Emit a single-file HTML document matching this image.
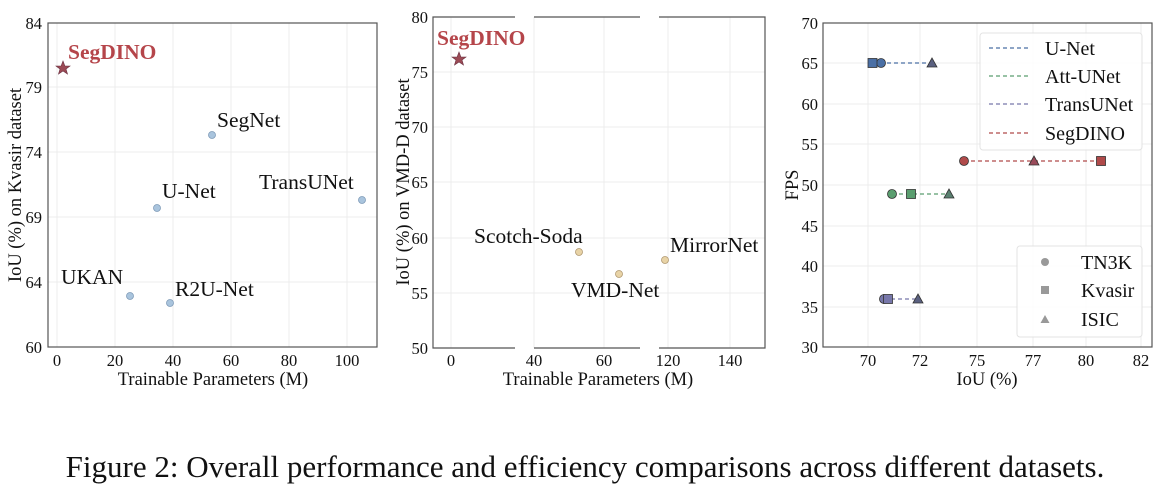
<!DOCTYPE html>
<html><head><meta charset="utf-8"><style>body{margin:0;background:#fff}svg{display:block}text{font-family:"Liberation Serif",serif;fill:#111}</style></head><body>
<svg width="1170" height="498" viewBox="0 0 1170 498" xmlns="http://www.w3.org/2000/svg">
<g stroke="#ececec" stroke-width="1">
<line x1="57" y1="23" x2="57" y2="347"/><line x1="115" y1="23" x2="115" y2="347"/><line x1="173" y1="23" x2="173" y2="347"/><line x1="231" y1="23" x2="231" y2="347"/><line x1="289" y1="23" x2="289" y2="347"/><line x1="347" y1="23" x2="347" y2="347"/>
<line x1="48" y1="87" x2="377" y2="87"/><line x1="48" y1="152" x2="377" y2="152"/><line x1="48" y1="217" x2="377" y2="217"/><line x1="48" y1="282" x2="377" y2="282"/>
<line x1="451" y1="17" x2="451" y2="348"/><line x1="534" y1="17" x2="534" y2="348"/><line x1="604" y1="17" x2="604" y2="348"/><line x1="668" y1="17" x2="668" y2="348"/><line x1="730" y1="17" x2="730" y2="348"/>
<line x1="433" y1="72" x2="765" y2="72"/><line x1="433" y1="127" x2="765" y2="127"/><line x1="433" y1="182" x2="765" y2="182"/><line x1="433" y1="238" x2="765" y2="238"/><line x1="433" y1="293" x2="765" y2="293"/>
<line x1="868" y1="23" x2="868" y2="347"/><line x1="920" y1="23" x2="920" y2="347"/><line x1="977" y1="23" x2="977" y2="347"/><line x1="1033" y1="23" x2="1033" y2="347"/><line x1="1086" y1="23" x2="1086" y2="347"/><line x1="1141" y1="23" x2="1141" y2="347"/>
<line x1="823" y1="63" x2="1152" y2="63"/><line x1="823" y1="104" x2="1152" y2="104"/><line x1="823" y1="144" x2="1152" y2="144"/><line x1="823" y1="185" x2="1152" y2="185"/><line x1="823" y1="226" x2="1152" y2="226"/><line x1="823" y1="266" x2="1152" y2="266"/><line x1="823" y1="307" x2="1152" y2="307"/>
</g>
<g fill="none" stroke="#555" stroke-width="1.2">
<rect x="48" y="23" width="329" height="324"/>
<rect x="823" y="23" width="329" height="324"/>
<path d="M515 17H433V348H515M534 17H640M534 348H640M659 17H765V348H659"/>
</g>
<!-- chart1 -->
<g font-size="16.5" text-anchor="end">
<text x="42" y="29">84</text><text x="42" y="93">79</text><text x="42" y="158">74</text><text x="42" y="223">69</text><text x="42" y="288">64</text><text x="42" y="353">60</text>
</g>
<g font-size="16.5" text-anchor="middle">
<text x="57" y="366">0</text><text x="115" y="366">20</text><text x="173" y="366">40</text><text x="231" y="366">60</text><text x="289" y="366">80</text><text x="347" y="366">100</text>
</g>
<text x="213" y="385" font-size="18.5" text-anchor="middle">Trainable Parameters (M)</text>
<text transform="translate(21,185) rotate(-90)" font-size="18.5" text-anchor="middle">IoU (%) on Kvasir dataset</text>
<g fill="#a9c4dd" stroke="#7f9bb8" stroke-width="0.8">
<circle cx="212" cy="135" r="3.5"/><circle cx="157" cy="208" r="3.5"/><circle cx="362" cy="200" r="3.5"/><circle cx="130" cy="296" r="3.5"/><circle cx="170" cy="303" r="3.5"/>
</g>
<polygon points="63,61 64.9,66 70,66 66,69 67.5,74 63,71 58.5,74 60,69 56,66 61.1,66" fill="#9b4a55" stroke="#6b3040" stroke-width="0.6"/>
<text x="68" y="59" font-size="21.5" font-weight="bold" style="fill:#b5454a">SegDINO</text>
<g font-size="21.5"><text x="217" y="127">SegNet</text><text x="162" y="198">U-Net</text><text x="259" y="189">TransUNet</text><text x="61" y="284">UKAN</text><text x="175" y="296">R2U-Net</text></g>
<!-- chart2 -->
<g font-size="16.5" text-anchor="end">
<text x="428" y="23">80</text><text x="428" y="78">75</text><text x="428" y="133">70</text><text x="428" y="188">65</text><text x="428" y="244">60</text><text x="428" y="299">55</text><text x="428" y="354">50</text>
</g>
<g font-size="16.5" text-anchor="middle">
<text x="451" y="366">0</text><text x="534" y="366">40</text><text x="604" y="366">60</text><text x="668" y="366">120</text><text x="730" y="366">140</text>
</g>
<text x="598" y="385" font-size="18.5" text-anchor="middle">Trainable Parameters (M)</text>
<text transform="translate(409,182) rotate(-90)" font-size="18.5" text-anchor="middle">IoU (%) on VMD-D dataset</text>
<g fill="#e8d3a6" stroke="#b09870" stroke-width="0.8">
<circle cx="579" cy="252" r="3.5"/><circle cx="619" cy="274" r="3.5"/><circle cx="665" cy="260" r="3.5"/>
</g>
<polygon points="459,52 460.9,57 466,57 462,60 463.5,65 459,62 454.5,65 456,60 452,57 457.1,57" fill="#9b4a55" stroke="#6b3040" stroke-width="0.6"/>
<text x="437" y="45" font-size="21.5" font-weight="bold" style="fill:#b5454a">SegDINO</text>
<g font-size="21.5"><text x="474" y="243">Scotch-Soda</text><text x="571" y="297">VMD-Net</text><text x="670" y="252">MirrorNet</text></g>
<!-- chart3 -->
<g font-size="16.5" text-anchor="end">
<text x="818" y="29">70</text><text x="818" y="69">65</text><text x="818" y="110">60</text><text x="818" y="150">55</text><text x="818" y="191">50</text><text x="818" y="232">45</text><text x="818" y="272">40</text><text x="818" y="313">35</text><text x="818" y="353">30</text>
</g>
<g font-size="16.5" text-anchor="middle">
<text x="868" y="366">70</text><text x="920" y="366">72</text><text x="977" y="366">75</text><text x="1033" y="366">77</text><text x="1086" y="366">80</text><text x="1141" y="366">82</text>
</g>
<text x="987" y="385" font-size="18.5" text-anchor="middle">IoU (%)</text>
<text transform="translate(798,185) rotate(-90)" font-size="18.5" text-anchor="middle">FPS</text>
<g stroke-dasharray="4,3" stroke-width="1.2">
<line x1="873" y1="63" x2="932" y2="63" stroke="#4a6fa5"/>
<line x1="892" y1="194" x2="949" y2="194" stroke="#5a9e6f"/>
<line x1="884" y1="299" x2="918" y2="299" stroke="#7777aa"/>
<line x1="964" y1="161" x2="1101" y2="161" stroke="#b04a4a"/>
</g>
<g stroke="#333" stroke-width="0.8">
<circle cx="881" cy="63" r="4.5" fill="#4a6fa5"/><rect x="868" y="58.5" width="9" height="9" fill="#4a6fa5"/><polygon points="932,58 937,67 927,67" fill="#5a6080"/>
<circle cx="892" cy="194" r="4.5" fill="#5a9e6f"/><rect x="906.5" y="189.5" width="9" height="9" fill="#5a9e6f"/><polygon points="949,189 954,198 944,198" fill="#5a8070"/>
<circle cx="884" cy="299" r="4.5" fill="#7777aa"/><rect x="883.5" y="294.5" width="9" height="9" fill="#7777aa"/><polygon points="918,294 923,303 913,303" fill="#5a6080"/>
<circle cx="964" cy="161" r="4.5" fill="#b04a4a"/><polygon points="1034,156 1039,165 1029,165" fill="#9a4a5a"/><rect x="1096.5" y="156.5" width="9" height="9" fill="#b04a4a"/>
</g>
<rect x="980" y="33" width="162" height="117" fill="#fff" fill-opacity="0.85" stroke="#e3e3e3" rx="3"/>
<g stroke-dasharray="4,3" stroke-width="1.2">
<line x1="989" y1="48" x2="1030" y2="48" stroke="#4a6fa5"/><line x1="989" y1="76" x2="1030" y2="76" stroke="#5a9e6f"/><line x1="989" y1="104" x2="1030" y2="104" stroke="#7777aa"/><line x1="989" y1="133" x2="1030" y2="133" stroke="#b04a4a"/>
</g>
<g font-size="20"><text x="1045" y="55">U-Net</text><text x="1045" y="83">Att-UNet</text><text x="1045" y="111">TransUNet</text><text x="1045" y="140">SegDINO</text></g>
<rect x="1017" y="246" width="125" height="91" fill="#fff" fill-opacity="0.85" stroke="#e3e3e3" rx="3"/>
<circle cx="1045" cy="262" r="4" fill="#999"/><rect x="1041" y="286" width="8" height="8" fill="#999"/><polygon points="1045,315 1049.5,323 1040.5,323" fill="#999"/>
<g font-size="20"><text x="1081" y="269">TN3K</text><text x="1081" y="297">Kvasir</text><text x="1081" y="326">ISIC</text></g>
<text x="585" y="477" font-size="31" text-anchor="middle">Figure 2: Overall performance and efficiency comparisons across different datasets.</text>
</svg>
</body></html>
